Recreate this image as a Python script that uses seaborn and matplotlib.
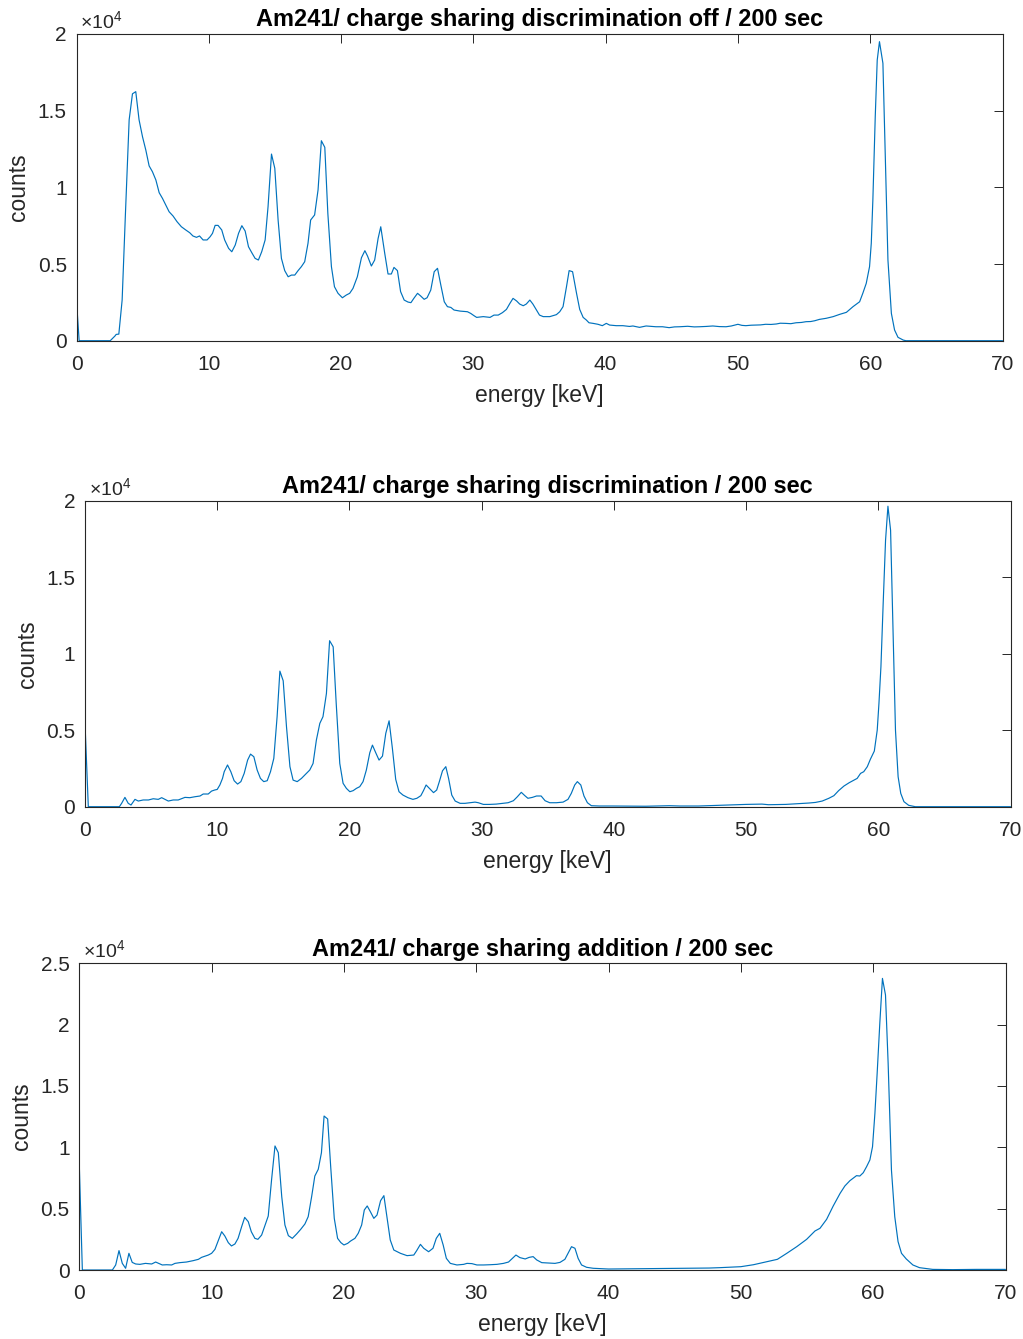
import numpy as np
import pandas as pd
import matplotlib
matplotlib.use("Agg")
import matplotlib.pyplot as plt
from matplotlib.ticker import FuncFormatter
import seaborn as sns

# --- Am241 spectra (energy in keV, counts per bin) ---
energy_off = [0, 0.2, 2.55, 2.9, 3.0, 3.2, 3.45, 3.7, 3.98, 4.23, 4.48, 4.73, 4.99, 5.24, 5.49, 5.74,
              6.0, 6.25, 6.5, 6.75, 7.0, 7.3, 7.6, 7.93, 8.26, 8.56, 8.8, 9.07, 9.3, 9.57, 9.87, 10.1,
              10.28, 10.48, 10.7, 10.98, 11.2, 11.5, 11.74, 12.0, 12.25, 12.5, 12.75, 13.0, 13.25, 13.5,
              13.75, 14.0, 14.26, 14.48, 14.74, 14.99, 15.24, 15.49, 15.74, 16.0, 16.25, 16.5, 16.75, 17.0,
              17.25, 17.5, 17.7, 18.0, 18.26, 18.51, 18.77, 19.0, 19.27, 19.5, 19.77, 20.1, 20.4, 20.65,
              20.9, 21.23, 21.54, 21.8, 22.0, 22.29, 22.54, 22.8, 23.0, 23.3, 23.55, 23.8, 24.0, 24.26,
              24.5, 24.77, 25.06, 25.28, 25.5, 25.78, 26.0, 26.28, 26.5, 26.78, 27.04, 27.29, 27.54, 27.8,
              28.04, 28.3, 28.54, 29.0, 29.55, 29.8, 30.05, 30.25, 30.75, 31.26, 31.56, 31.88, 32.2, 32.5,
              32.76, 33.0, 33.27, 33.5, 33.77, 34.0, 34.27, 34.5, 34.77, 35.0, 35.28, 35.78, 36.28, 36.53,
              36.78, 37.04, 37.24, 37.5, 37.8, 38.04, 38.3, 38.54, 38.74, 39.05, 39.42, 39.75, 40.05, 40.3,
              40.8, 41.3, 41.8, 42.06, 42.56, 43.06, 43.4, 43.8, 44.3, 44.8, 45.2, 45.6, 46.2, 46.7, 47.1,
              47.6, 48.1, 48.6, 49.1, 49.5, 50.0, 50.3, 50.6, 51.0, 51.36, 51.7, 52.1, 52.5, 52.9, 53.2,
              53.6, 54.0, 54.4, 54.8, 55.15, 55.5, 55.8, 56.16, 56.67, 57.2, 57.7, 58.2, 58.7, 59.2, 59.44,
              59.7, 59.95, 60.08, 60.2, 60.38, 60.53, 60.7, 60.96, 61.16, 61.34, 61.6, 61.84, 62.1, 62.5,
              62.7, 70.0]
counts_off = [2590, 0, 0, 300, 410, 430, 2650, 8300, 14400, 16100, 16240, 14400, 13300, 12430, 11400, 11020,
              10480, 9650, 9280, 8850, 8410, 8130, 7760, 7430, 7220, 7040, 6830, 6740, 6830, 6570, 6570, 6780,
              7000, 7520, 7520, 7220, 6570, 6020, 5800, 6240, 7000, 7500, 7150, 6130, 5740, 5370,
              5260, 5800, 6570, 8740, 12170, 11240, 7870, 5370, 4570, 4170, 4280, 4280, 4570, 4830,
              5150, 6350, 7870, 8200, 9830, 13040, 12610, 8300, 4830, 3520, 3090, 2800, 2980, 3090,
              3410, 4170, 5410, 5870, 5520, 4870, 5260, 6670, 7430, 5700, 4350, 4350, 4780, 4570,
              3200, 2650, 2520, 2480, 2760, 3090, 2930, 2700, 2800, 3300, 4500, 4720, 3630, 2540,
              2220, 2170, 2000, 1930, 1890, 1780, 1630, 1520, 1570, 1520, 1670, 1670, 1830, 2040,
              2430, 2760, 2590, 2390, 2280, 2390, 2650, 2390, 2000, 1670, 1570, 1570, 1700, 1890,
              2220, 3520, 4570, 4500, 3090, 2040, 1520, 1350, 1170, 1130, 1070, 980, 1130, 1020,
              980, 980, 930, 960, 870, 960, 940, 910, 910, 850, 900, 910, 940, 900, 910,
              930, 960, 920, 910, 960, 1070, 1000, 980, 1010, 1020, 1030, 1070, 1060, 1090, 1140,
              1130, 1110, 1170, 1190, 1240, 1250, 1300, 1390, 1460, 1570, 1720, 1850, 2220, 2540, 3090,
              3740, 4830, 6350, 9170, 14600, 18300, 19500, 18090, 11350, 5260, 1780, 700, 220, 40,
              0, 0]

energy_disc = [0, 0.25, 2.6, 2.77, 3.02, 3.27, 3.48, 3.78, 4.03, 4.4, 4.8, 5.16, 5.54, 5.8, 6.05, 6.3,
               6.67, 7.05, 7.3, 7.56, 7.93, 8.3, 8.7, 8.94, 9.32, 9.57, 9.8, 10.0, 10.2, 10.4, 10.53,
               10.78, 11.03, 11.28, 11.54, 11.79, 12.04, 12.3, 12.52, 12.77, 13.02, 13.27, 13.52, 13.78,
               14.03, 14.28, 14.53, 14.74, 14.99, 15.24, 15.5, 15.74, 16.05, 16.37, 16.7, 17.0, 17.25,
               17.5, 17.76, 18.0, 18.26, 18.5, 18.77, 19.0, 19.27, 19.52, 19.77, 20.03, 20.28, 20.53,
               20.78, 21.03, 21.28, 21.54, 21.74, 21.99, 22.24, 22.5, 22.75, 23.0, 23.25, 23.5, 23.75,
               24.05, 24.43, 24.8, 25.1, 25.4, 25.6, 25.8, 26.05, 26.36, 26.6, 26.8, 27.04, 27.29, 27.5,
               27.74, 28.0, 28.37, 28.74, 29.1, 29.5, 29.75, 30.13, 30.6, 31.1, 31.6, 32.0, 32.4, 32.7,
               33.0, 33.27, 33.5, 33.84, 34.15, 34.5, 34.8, 35.15, 35.65, 36.16, 36.53, 36.78, 37.04,
               37.24, 37.5, 37.74, 38.0, 38.3, 38.9, 39.9, 42.4, 44.2, 45.0, 46.4, 47.9, 49.4, 50.0,
               51.2, 51.7, 53.0, 54.0, 54.75, 55.25, 55.76, 56.26, 56.64, 57.0, 57.4, 57.8, 58.16, 58.4,
               58.66, 58.9, 59.17, 59.4, 59.7, 59.92, 60.05, 60.2, 60.37, 60.55, 60.73, 60.93, 61.13,
               61.3, 61.5, 61.7, 61.94, 62.3, 62.8, 70.0]
counts_disc = [5450, 0, 0, 220, 610, 220, 110, 480, 370, 440, 440, 520, 480, 590, 480, 370,
               440, 440, 520, 610, 590, 650, 700, 830, 830, 1020, 1090, 1130, 1420, 1850, 2290,
               2730, 2290, 1700, 1480, 1640, 2180, 3050, 3440, 3270, 2400, 1850, 1640, 1700,
               2290, 3160, 5890, 8870, 8240, 5230, 2620, 1740, 1640, 1850, 2140, 2400, 2830,
               4360, 5450, 5890, 7410, 10860, 10460, 6760, 2830, 1530, 1200, 980, 1050, 1200,
               1310, 1640, 2400, 3530, 4030, 3530, 3050, 3310, 4800, 5620, 3810, 1790, 980,
               760, 590, 480, 550, 720, 1050, 1420, 1200, 920, 1090, 1640, 2350, 2620, 1850,
               760, 370, 220, 220, 260, 300, 260, 150, 150, 170, 220, 260, 390, 650,
               940, 720, 550, 610, 700, 700, 390, 260, 260, 300, 480, 870, 1420,
               1640, 1420, 700, 260, 65, 45, 45, 30, 65, 45, 45, 90, 130, 150,
               170, 130, 150, 200, 240, 280, 370, 550, 720, 1050, 1350, 1570, 1740, 1850,
               2180, 2290, 2620, 3100, 3640, 5010, 6760, 9160, 13300, 17440, 19660, 18090, 11120,
               5010, 1960, 870, 330, 90, 0, 0]

energy_add = [0, 0.23, 2.5, 2.75, 3.0, 3.25, 3.5, 3.75, 4.0, 4.26, 4.58, 5.0, 5.47, 5.77, 6.0, 6.27,
              6.6, 6.98, 7.23, 7.6, 8.1, 8.6, 9.0, 9.24, 9.75, 10.0, 10.25, 10.5, 10.76, 11.0, 11.26,
              11.5, 11.76, 12.0, 12.27, 12.5, 12.77, 13.0, 13.27, 13.5, 13.78, 14.0, 14.28, 14.53,
              14.79, 15.04, 15.3, 15.54, 15.8, 16.1, 16.42, 16.73, 17.05, 17.3, 17.56, 17.8, 18.06,
              18.3, 18.5, 18.77, 19.0, 19.27, 19.52, 19.77, 20.0, 20.28, 20.5, 20.83, 21.08, 21.34,
              21.54, 21.76, 22.0, 22.26, 22.5, 22.77, 23.02, 23.27, 23.5, 23.77, 24.27, 24.77, 25.28,
              25.5, 25.78, 26.03, 26.4, 26.73, 26.98, 27.24, 27.5, 27.74, 28.04, 28.54, 29.05, 29.3,
              29.67, 30.05, 30.55, 31.05, 31.56, 32.06, 32.44, 32.74, 33.0, 33.3, 33.7, 34.0, 34.3,
              34.57, 34.95, 35.45, 35.95, 36.33, 36.7, 36.96, 37.2, 37.46, 37.7, 37.96, 38.34, 38.84,
              40.0, 42.9, 45.4, 47.6, 48.4, 50.0, 50.95, 51.96, 52.76, 53.47, 54.22, 54.97, 55.6,
              55.98, 56.48, 56.98, 57.5, 57.86, 58.24, 58.74, 58.99, 59.25, 59.5, 59.75, 59.95, 60.13,
              60.3, 60.5, 60.7, 60.93, 61.13, 61.38, 61.63, 61.88, 62.14, 62.5, 63.0, 63.5, 64.5,
              66.0, 67.8, 70.0]
counts_add = [8560, 0, 0, 410, 1580, 540, 140, 1360, 620, 490, 460, 540, 490, 650, 540, 410,
              430, 410, 540, 600, 650, 760, 870, 1030, 1220, 1360, 1680, 2390, 3120, 2770, 2230,
              1960, 2120, 2580, 3530, 4290, 3940, 3120, 2580, 2500, 2850, 3530, 4400, 7340,
              10110, 9560, 5980, 3670, 2800, 2580, 2930, 3310, 3750, 4350, 5980, 7660, 8210,
              9560, 12550, 12310, 8420, 4210, 2580, 2230, 2040, 2170, 2360, 2580, 2990, 3670,
              4890, 5220, 4750, 4210, 4480, 5650, 6060, 4200, 2450, 1630, 1360, 1170, 1220,
              1580, 2090, 1770, 1490, 1770, 2580, 2990, 2040, 950, 540, 410, 460, 540,
              520, 410, 410, 430, 460, 540, 650, 950, 1220, 1010, 900, 1030, 1090,
              820, 600, 570, 540, 620, 870, 1410, 1900, 1770, 950, 410, 220, 140,
              80, 110, 130, 160, 190, 270, 430, 680, 870, 1360, 1900, 2500, 3180,
              3400, 4130, 5220, 6250, 6850, 7280, 7690, 7660, 7930, 8420, 8970, 10050, 12770,
              16030, 20100, 23770, 22420, 16850, 8150, 4350, 2310, 1360, 900, 410, 190, 50,
              30, 50, 50]

titles = ["Am241/ charge sharing discrimination off / 200 sec",
          "Am241/ charge sharing discrimination / 200 sec",
          "Am241/ charge sharing addition / 200 sec"]
y_max = [2e4, 2e4, 2.5e4]
x_ticks = [0, 10, 20, 30, 40, 50, 60, 70]

sns.set_theme(style="white")
plt.rcParams["font.family"] = ["Liberation Sans", "DejaVu Sans"]
plt.rcParams["mathtext.fontset"] = "custom"
plt.rcParams["mathtext.rm"] = "Liberation Sans"

fig = plt.figure(figsize=(10.23, 13.39), dpi=100)
W, H = 1023.0, 1339.0
# axes boxes in pixels: left, top, right, bottom
boxes = [(76.5, 34.0, 1002.5, 340.7),
         (85.0, 501.0, 1010.5, 806.7),
         (79.3, 963.3, 1005.5, 1270.0)]

spectra = [(energy_off, counts_off), (energy_disc, counts_disc), (energy_add, counts_add)]
line_color = "#0072BD"
axis_color = "#262626"

for (l, t, r, b), (e, c), title, ym in zip(boxes, spectra, titles, y_max):
    ax = fig.add_axes([l / W, 1 - b / H, (r - l) / W, (b - t) / H])
    df = pd.DataFrame({"energy": e, "counts": c})
    sns.lineplot(data=df, x="energy", y="counts", ax=ax, estimator=None, sort=False,
                 color=line_color, linewidth=0.85)
    ax.set_xlim(0, 70)
    ax.set_ylim(0, ym)
    ax.set_xticks(x_ticks)
    ax.set_yticks(np.arange(0, ym + 1, 5000))
    ax.yaxis.set_major_formatter(FuncFormatter(lambda v, p: f"{v / 1e4:g}"))
    ax.tick_params(direction="in", top=True, right=True, length=6.5, width=0.7,
                   color=axis_color, labelcolor=axis_color, labelsize=15)
    ax.tick_params(axis="x", pad=10)
    ax.tick_params(axis="y", pad=7)
    for s in ax.spines.values():
        s.set_color(axis_color)
        s.set_linewidth(0.8)
    ax.set_xlabel("energy [keV]", fontsize=16.5, color=axis_color, labelpad=7.5)
    ax.set_ylabel("counts", fontsize=16.5, color=axis_color, labelpad=5.5)
    ax.set_title(title, fontsize=16.9, fontweight="bold", color="black", pad=5.5)
    ax.text(0.004, 1.006, r"$\mathregular{\times10^{4}}$", transform=ax.transAxes,
            ha="left", va="bottom", fontsize=14, color=axis_color)

fig.savefig("out.png", dpi=100)
